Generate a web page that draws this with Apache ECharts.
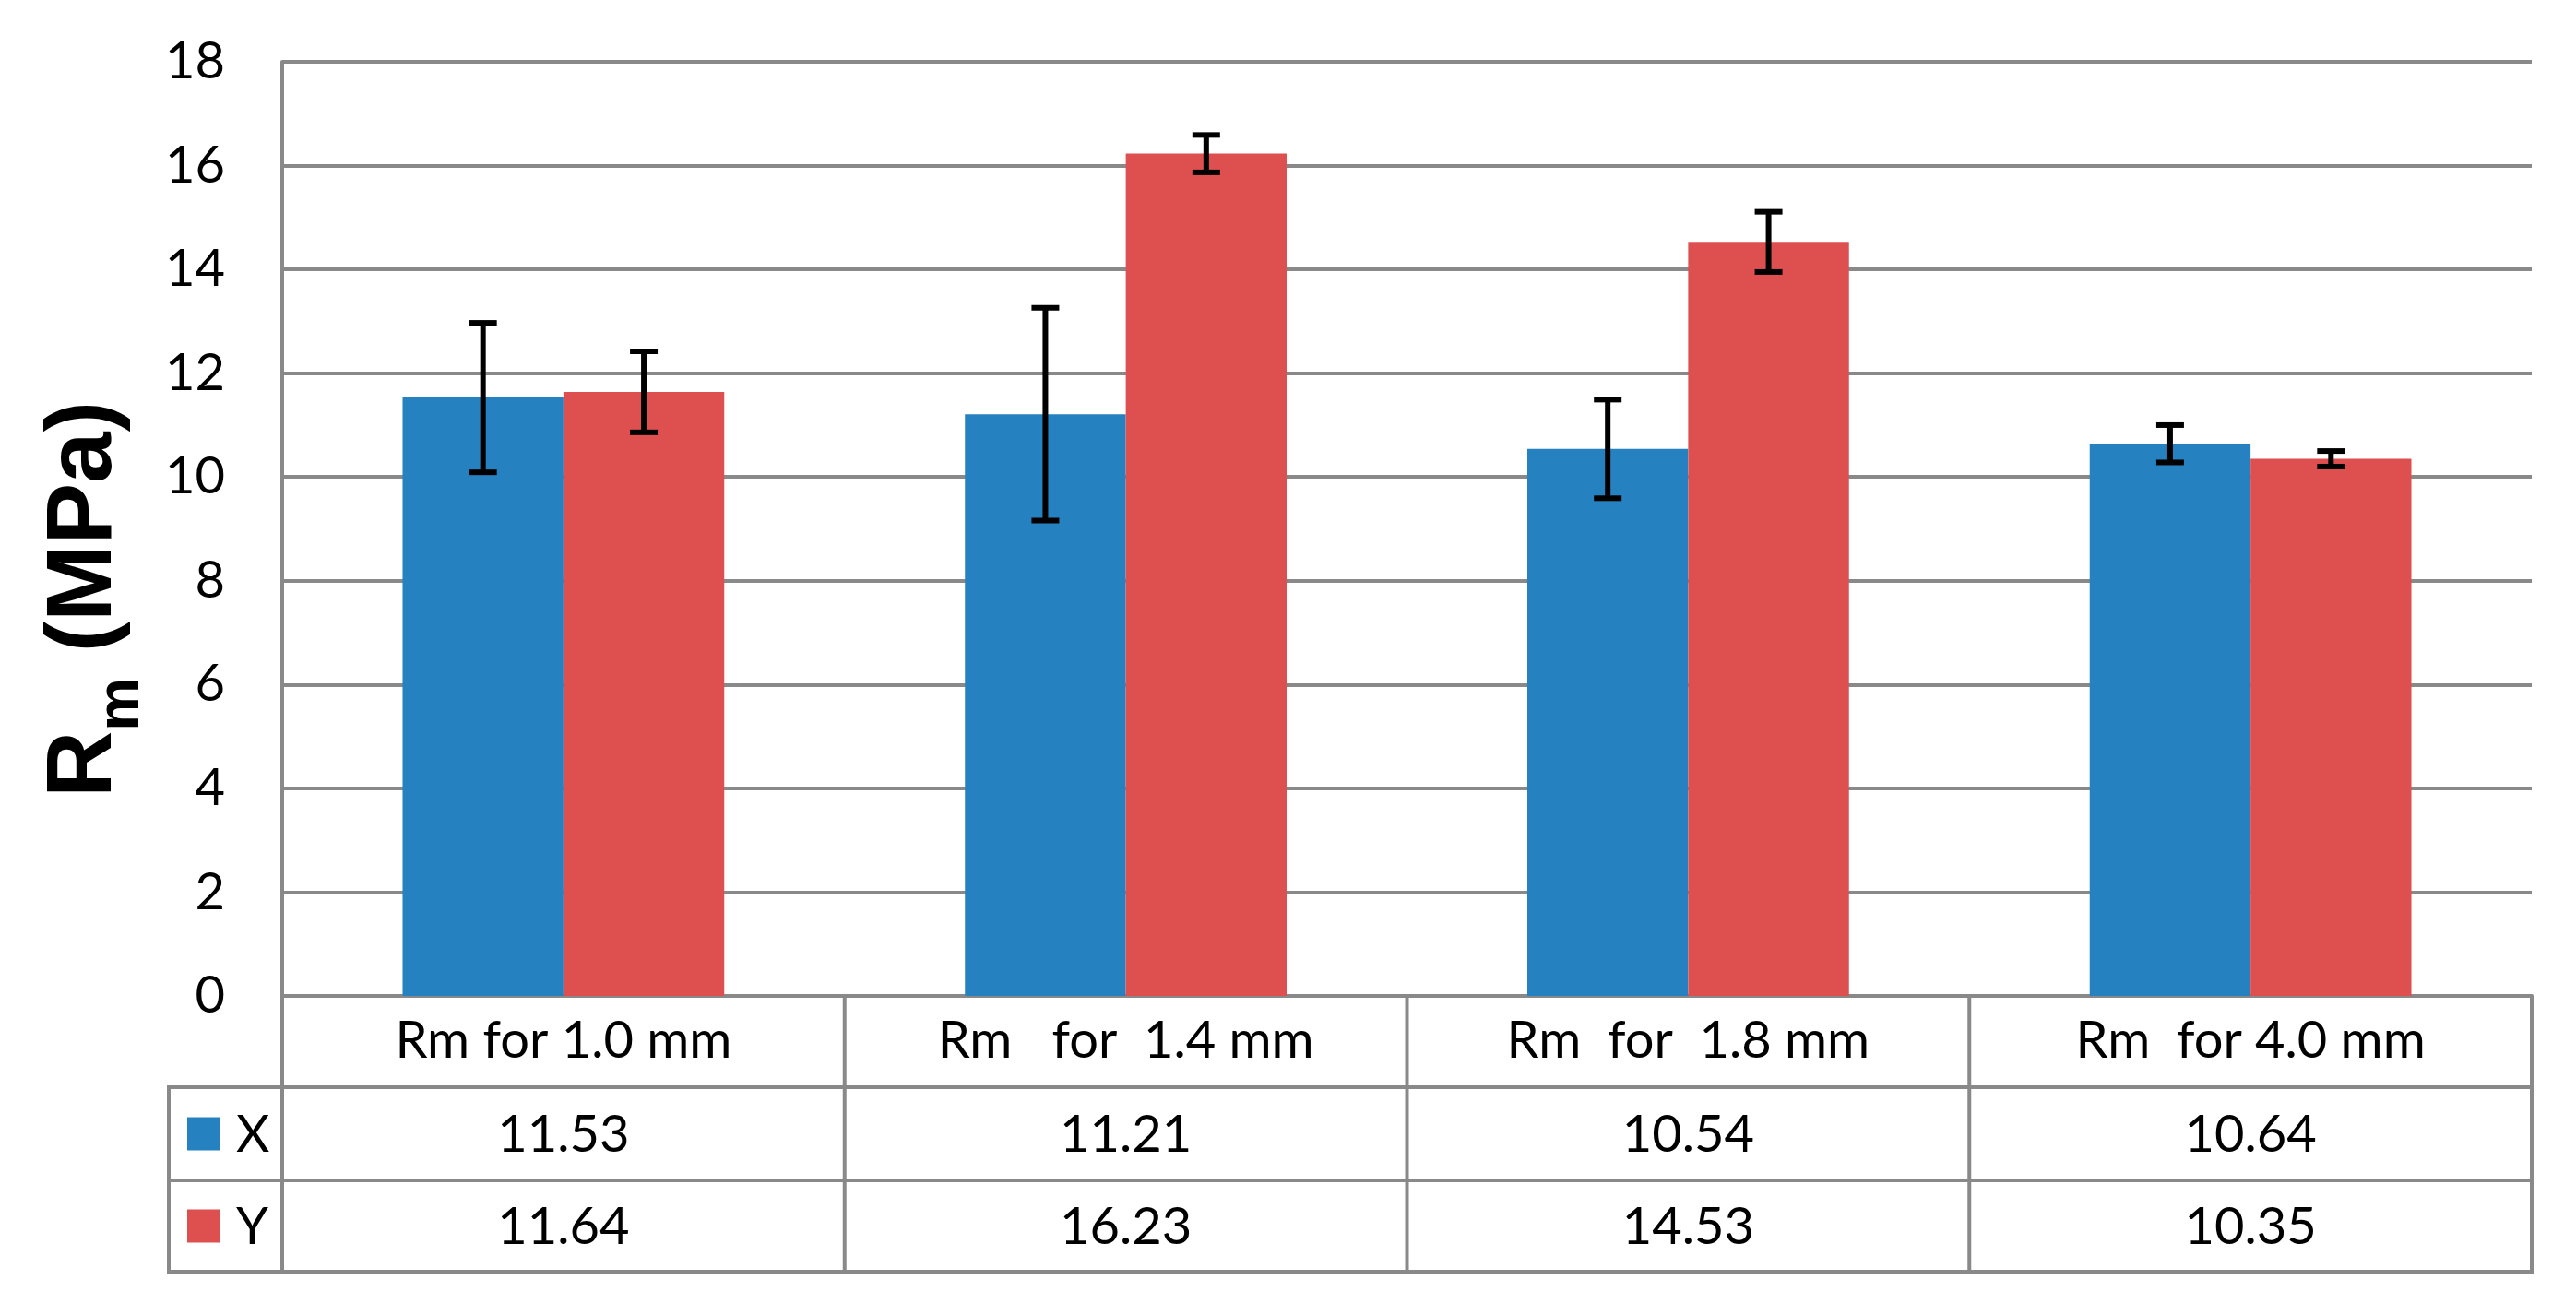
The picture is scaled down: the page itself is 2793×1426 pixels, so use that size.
<!DOCTYPE html>
<html>
<head>
<meta charset="utf-8">
<script src="https://cdn.jsdelivr.net/npm/echarts@6/dist/echarts.min.js"></script>
<style>
html,body{margin:0;padding:0;background:#fff;}
#chart{width:2793px;height:1426px;}
</style>
</head>
<body>
<div id="chart"></div>
<script>
// ---- data ----
const categories = ['Rm for 1.0 mm', 'Rm   for  1.4 mm', 'Rm  for  1.8 mm', 'Rm  for 4.0 mm'];
const seriesNames = ['X', 'Y'];
const xValues = [11.53, 11.21, 10.54, 10.64];
const yValues = [11.64, 16.23, 14.53, 10.35];
const xErrors = [1.44, 2.05, 0.95, 0.36];
const yErrors = [0.78, 0.36, 0.58, 0.15];
const yTicks = [0, 2, 4, 6, 8, 10, 12, 14, 16, 18];

const colors = ['#2681C1', '#DE5050'];
const gridColor = '#898989';
const FONT = 'Lato';
const catGap = 0.428;

const chart = echarts.init(document.getElementById('chart'), null, {renderer: 'canvas'});

function errData(vals, errs) {
  return vals.map((v, i) => [i, v + errs[i], v - errs[i]]);
}

function errRender(side) {
  return function (params, api) {
    const idx = api.value(0);
    const hi = api.coord([idx, api.value(1)]);
    const lo = api.coord([idx, api.value(2)]);
    const band = api.size([1, 0])[0];
    const barW = band * (1 - catGap) / 2;
    const x = hi[0] + side * barW / 2;
    const cap = 15;
    const st = {stroke: '#000', lineWidth: 6};
    return {
      type: 'group',
      children: [
        {type: 'line', shape: {x1: x, y1: hi[1], x2: x, y2: lo[1]}, style: st},
        {type: 'line', shape: {x1: x - cap, y1: hi[1], x2: x + cap, y2: hi[1]}, style: st},
        {type: 'line', shape: {x1: x - cap, y1: lo[1], x2: x + cap, y2: lo[1]}, style: st}
      ]
    };
  };
}

const GRID = {left: 306, right: 48, top: 67, bottom: 346};

chart.setOption({
  animation: false,
  backgroundColor: '#fff',
  grid: {left: GRID.left, right: GRID.right, top: GRID.top, bottom: GRID.bottom, containLabel: false},
  xAxis: {
    type: 'category',
    data: categories,
    axisLine: {show: true, lineStyle: {color: gridColor, width: 4}},
    axisTick: {show: false},
    axisLabel: {fontFamily: FONT, fontSize: 56, color: '#000', margin: 49, verticalAlign: 'middle', interval: 0}
  },
  yAxis: {
    type: 'value',
    min: 0, max: 18, interval: 2,
    axisLine: {show: true, lineStyle: {color: gridColor, width: 4}},
    axisTick: {show: false},
    splitLine: {show: true, lineStyle: {color: gridColor, width: 4}},
    axisLabel: {fontFamily: FONT, fontSize: 56, color: '#000', margin: 62,
      formatter: v => yTicks.indexOf(v) >= 0 ? String(v) : ''}
  },
  series: [
    {name: seriesNames[0], type: 'bar', data: xValues, barGap: '0%', barCategoryGap: (catGap * 100) + '%',
      itemStyle: {color: colors[0]}, z: 2},
    {name: seriesNames[1], type: 'bar', data: yValues, barGap: '0%', barCategoryGap: (catGap * 100) + '%',
      itemStyle: {color: colors[1]}, z: 2},
    {type: 'custom', renderItem: errRender(-1), data: errData(xValues, xErrors),
      encode: {x: 0, y: [1, 2]}, z: 5, silent: true},
    {type: 'custom', renderItem: errRender(1), data: errData(yValues, yErrors),
      encode: {x: 0, y: [1, 2]}, z: 5, silent: true}
  ]
});

// ---- data table (with legend keys) below the axis ----
function buildTable() {
  const y0 = chart.convertToPixel({yAxisIndex: 0}, 0);
  const c0 = chart.convertToPixel({xAxisIndex: 0}, 0);
  const c1 = chart.convertToPixel({xAxisIndex: 0}, 1);
  const band = c1 - c0;
  const left = c0 - band / 2;
  const right = left + band * categories.length;
  const rowH = 100;
  const legendLeft = 183;
  const r1 = y0 + rowH - 1, r2 = r1 + rowH + 1, r3 = r2 + rowH - 1;
  const ls = {stroke: gridColor, lineWidth: 4};
  const els = [];
  const hl = (x1, x2, y) => els.push({type: 'line', silent: true, shape: {x1, y1: y, x2, y2: y}, style: ls, z: 10});
  const vl = (x, y1, y2) => els.push({type: 'line', silent: true, shape: {x1: x, y1, x2: x, y2}, style: ls, z: 10});
  hl(legendLeft - 2, right + 2, r1);
  hl(legendLeft - 2, right + 2, r2);
  hl(legendLeft - 2, right + 2, r3);
  vl(legendLeft, r1, r3);
  vl(left, y0, r3);
  for (let i = 1; i <= categories.length; i++) vl(left + band * i, y0, r3);
  const rows = [xValues, yValues];
  const centers = [(r1 + r2) / 2, (r2 + r3) / 2];
  rows.forEach((vals, ri) => {
    // legend key
    els.push({type: 'rect', silent: true, z: 11,
      shape: {x: 203, y: centers[ri] - 18, width: 36, height: 36},
      style: {fill: colors[ri]}});
    els.push({type: 'text', silent: true, x: 256, y: centers[ri] + 1, z: 11,
      style: {text: seriesNames[ri], fontFamily: FONT, fontSize: 56, fill: '#000', align: 'left', verticalAlign: 'middle'}});
    vals.forEach((v, i) => {
      els.push({type: 'text', silent: true, x: c0 + band * i, y: centers[ri] + 1, z: 11,
        style: {text: v.toFixed(2), fontFamily: FONT, fontSize: 56, fill: '#000', align: 'center', verticalAlign: 'middle'}});
    });
  });
  // y-axis title
  els.push({
    type: 'text', silent: true, x: 92, y: 650, rotation: Math.PI / 2, z: 11,
    style: {
      text: '{a|R}{s|m}{a| (MPa)}',
      align: 'center', verticalAlign: 'middle',
      rich: {
        a: {fontFamily: 'Liberation Sans', fontWeight: 'bold', fontSize: 100, fill: '#000'},
        s: {fontFamily: 'Liberation Sans', fontWeight: 'bold', fontSize: 65, fill: '#000', padding: [80, 0, 0, 0]}
      }
    }
  });
  chart.setOption({graphic: {elements: els}});
}
buildTable();
</script>
</body>
</html>
